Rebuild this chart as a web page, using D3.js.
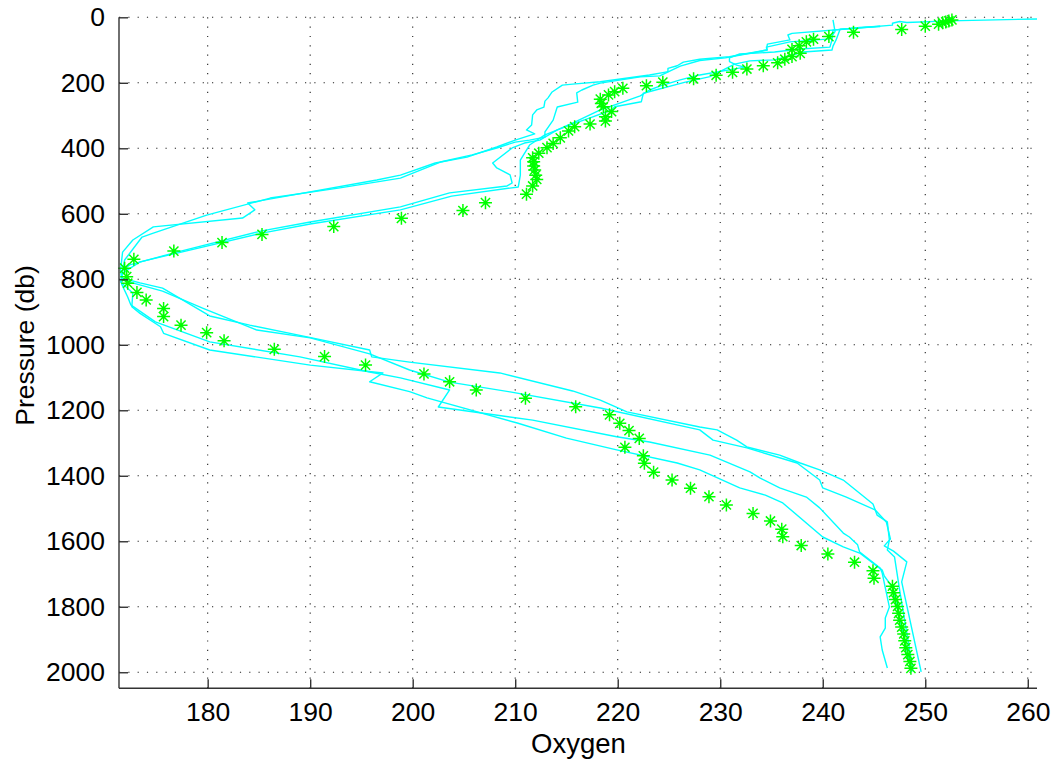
<!DOCTYPE html>
<html>
<head>
<meta charset="utf-8">
<script src="https://cdn.jsdelivr.net/npm/d3@7"></script>
<style>
html,body{margin:0;padding:0;background:#fff;}
svg{display:block;}
text{font-family:"Liberation Sans",Arial,Helvetica,sans-serif;fill:#000;}
</style>
</head>
<body>
<svg id="chart" width="1060" height="766"></svg>
<script>
// ---------- data ----------
const xTicks = [180,190,200,210,220,230,240,250,260];
const yTicks = [0,200,400,600,800,1000,1200,1400,1600,1800,2000];
const xLabel = "Oxygen";
const yLabel = "Pressure (db)";

// green asterisk samples
const starOxygen = [252.6,252.3,252.0,251.7,251.3,250.0,247.7,243.0,240.6,239.1,238.4,237.7,237.0,237.8,237.0,236.3,235.6,234.2,232.6,231.2,229.6,227.4,224.4,222.8,220.5,219.7,219.1,
  218.3,218.4,218.6,219.4,218.8,218.8,217.3,215.8,215.2,214.4,213.7,213.1,212.3,211.7,211.8,211.8,211.9,212.0,212.1,211.7,211.1,207.1,204.9,198.9,192.3,185.3,181.4,176.7,172.8,171.9,172.1,172.2,
  173.1,174.0,175.7,175.7,177.4,179.9,181.6,186.5,191.4,195.4,201.1,203.6,206.2,211.0,215.9,219.2,220.2,221.1,222.1,220.7,222.5,222.6,223.5,225.3,227.1,228.9,230.6,233.2,234.9,236.0,236.1,
  237.9,240.5,243.1,244.9,245.0,246.8,246.9,247.1,247.3,247.4,247.5,247.7,247.9,248.0,248.1,248.3,248.5,248.6];
const starPressure = [8,11,14,17,21,27,37,46,59,67,75,87,98,110,120,128,139,148,158,168,177,188,198,209,217,227,237,
  250,263,273,288,304,317,326,334,347,368,385,398,415,429,441,454,466,482,495,515,540,566,590,614,639,663,688,714,739,766,792,812,
  840,863,889,914,940,963,988,1014,1036,1062,1089,1113,1138,1163,1189,1214,1240,1262,1286,1313,1339,1362,1389,1413,1438,1464,1489,1515,1538,1563,1586,
  1613,1639,1664,1690,1713,1737,1757,1778,1799,1820,1841,1862,1883,1904,1925,1946,1967,1988];

// cyan profiles
const profile1Oxygen = [260.9,252.4,248.2,247.5,246.8,246.8,242.9,237.0,236.6,236.8,234.6,234.5,230.9,228.0,226.4,225.8,224.9,224.9,224.4,223.1,218.3,215.6,214.6,213.6,213.2,212.9,212.8,212.1,211.7,211.6,211.1,211.9,210.0,208.2,205.3,202.2,198.8,196.5,183.9,184.6,183.4,174.7,172.7,171.7,171.5,171.6,
  173.4,175.6,180.2,184.1,189.7,195.8,196.0,199.7,208.5,215.6,218.3,220.9,228.0,229.7,231.6,232.6,235.8,237.8,239.7,242.0,244.9,245.3,246.3,246.5,246.3,247.0,247.5,248.8];
const profile1Pressure = [5,11,16,13,18,24,34,49,54,69,82,100,120,128,137,148,156,166,169,176,197,204,207,228,246,256,274,283,298,329,344,356,375,396,427,445,482,497,567,588,613,640,680,717,772,796,
  811,827,912,940,976,1016,1037,1053,1086,1141,1169,1205,1251,1260,1291,1312,1337,1361,1382,1413,1486,1520,1541,1596,1627,1648,1749,1993];

const profile2Oxygen = [241.0,241.2,240.7,236.8,234.5,234.6,230.5,228.0,226.1,224.1,222.2,218.3,217.6,216.5,216.0,216.1,214.1,213.7,212.9,212.9,211.4,210.0,208.2,205.8,202.7,198.8,192.9,186.1,179.9,174.7,173.6,171.9,171.6,
  171.6,175.6,179.5,184.8,190.0,195.8,199.7,203.6,209.5,218.3,228.0,229.3,232.6,237.5,239.7,240.0,242.3,245.1,246.2,246.6,246.0,246.9,248.2,247.7,249.6];
const profile2Pressure = [8,44,66,75,91,100,124,132,149,179,182,201,207,222,231,259,274,314,350,366,375,381,399,420,442,491,521,552,604,659,671,741,787,
  802,836,888,955,979,1028,1077,1114,1144,1193,1260,1291,1315,1361,1413,1437,1465,1504,1541,1593,1614,1630,1663,1724,1999];

const profile3Oxygen = [245.6,243.6,241.0,240.9,240.7,237.8,235.3,231.9,230.9,230.9,231.6,232.4,228.0,226.1,224.1,223.1,222.2,220.2,218.3,215.8,214.1,212.4,210.9,209.7,207.8,208.2,209.5,209.7,209.2,203.6,198.8,190.0,185.3,177.0,172.4,171.7,171.6,
  171.6,172.2,172.5,174.9,180.2,189.0,195.8,198.8,203.6,202.5,211.7,219.9,223.1,229.0,232.9,233.9,235.8,238.4,239.7,242.0,242.6,243.4,243.6,245.6,245.8,246.5,246.1,246.1,245.6,245.8,246.3];
const profile3Pressure = [27,31,39,69,91,97,106,112,124,135,146,152,176,191,210,222,240,262,283,320,344,375,384,399,445,460,481,506,515,536,579,625,652,717,756,772,802,
  814,854,878,930,991,1037,1083,1101,1138,1190,1230,1281,1297,1337,1388,1407,1437,1465,1498,1575,1587,1611,1633,1682,1697,1801,1834,1865,1892,1932,1987];

const profile4Oxygen = [245.6,241.7,241.3,241.0,240.9,238.1,235.3,232.9,231.4,229.0,226.6,222.5,222.3,219.7,219.4,217.3,215.3,212.9,211.4,210.5,210.5,210.3,203.8,198.8,190.0,185.3,176.6,173.4,171.7,171.5,
  172.7,172.6,173.4,175.4,175.7,180.2,190.0,197.1,195.8,199.7,201.4,210.2,215.0,219.9,225.8,228.0,231.9,234.4,236.1,240.0,242.0,243.6,245.8,246.0,246.8,248.7];
const profile4Pressure = [28,36,69,88,100,106,130,133,143,181,198,232,258,273,283,307,329,359,390,436,482,518,546,588,631,659,723,747,781,808,
  842,884,904,945,965,1016,1062,1086,1113,1143,1162,1239,1285,1321,1361,1382,1437,1459,1483,1587,1617,1636,1688,1706,1740,1999];

// ---------- drawing ----------
const svg = d3.select("#chart");
const W = 1060, H = 766;
const pLeft = 119, pRight = 1037, pTop = 17.3, pBottom = 688.3;
svg.append("rect").attr("width", W).attr("height", H).attr("fill", "#fff");

const x = d3.scaleLinear().domain([171.35, 260.9]).range([pLeft, pRight]);
const y = d3.scaleLinear().domain([0, 2049]).range([pTop, pBottom]);

// grid
const grid = svg.append("g").attr("stroke", "#222").attr("stroke-width", 1.1)
  .attr("stroke-dasharray", "1.2,8.1").attr("fill", "none");
grid.selectAll("line.gx").data(xTicks).join("line").attr("class","gx")
  .attr("x1", d => x(d)).attr("x2", d => x(d)).attr("y1", pTop).attr("y2", pBottom);
grid.selectAll("line.gy").data(yTicks).join("line").attr("class","gy")
  .attr("x1", pLeft).attr("x2", pRight).attr("y1", d => y(d)).attr("y2", d => y(d));

// profiles
const profiles = [
  [profile1Oxygen, profile1Pressure],
  [profile2Oxygen, profile2Pressure],
  [profile3Oxygen, profile3Pressure],
  [profile4Oxygen, profile4Pressure]
];
const line = d3.line().x(d => x(d[0])).y(d => y(d[1]));
svg.append("g").selectAll("path").data(profiles).join("path")
  .attr("d", p => line(p[0].map((o, i) => [o, p[1][i]])))
  .attr("fill", "none").attr("stroke", "#00ffff").attr("stroke-width", 1.4)
  .attr("stroke-linejoin", "round");

// asterisks
const stars = starOxygen.map((o, i) => [o, starPressure[i]]);
const r = 6.5, rd = 4.6;
const starPath = `M${-r},0H${r}M0,${-r}V${r}M${-rd},${-rd}L${rd},${rd}M${-rd},${rd}L${rd},${-rd}`;
svg.append("g").selectAll("path").data(stars).join("path")
  .attr("transform", d => `translate(${x(d[0])},${y(d[1])})`)
  .attr("d", starPath).attr("fill", "none").attr("stroke", "#00ff00").attr("stroke-width", 1.5);

// axes (box off: left and bottom only, ticks inward)
const axColor = "#333";
const xAxis = d3.axisBottom(x).tickValues(xTicks).tickSize(-9).tickPadding(14).tickFormat(d3.format("d"));
const yAxis = d3.axisLeft(y).tickValues(yTicks).tickSize(-9).tickPadding(14).tickFormat(d3.format("d"));
const gx = svg.append("g").attr("transform", `translate(0,${pBottom})`).call(xAxis);
const gy = svg.append("g").attr("transform", `translate(${pLeft},0)`).call(yAxis);
[gx, gy].forEach(g => {
  g.select(".domain").attr("stroke", axColor).attr("stroke-width", 1.4);
  g.selectAll(".tick line").attr("stroke", axColor).attr("stroke-width", 1.4);
  g.selectAll(".tick text").attr("font-size", 26.5).attr("fill", "#000")
    .style("font-family", '"Liberation Sans", Arial, sans-serif');
});
gx.select(".domain").attr("d", `M${pLeft},0H${pRight}`);
gy.select(".domain").attr("d", `M0,${pTop}V${pBottom}`);
gx.selectAll(".tick text").attr("dy", "0.71em");

// axis titles
svg.append("text").attr("x", 578.5).attr("y", 753)
  .attr("text-anchor", "middle").attr("font-size", 27.5).text(xLabel);
svg.append("text").attr("transform", `translate(33.5,345.5) rotate(-90)`)
  .attr("text-anchor", "middle").attr("font-size", 26.5).text(yLabel);
</script>
</body>
</html>
